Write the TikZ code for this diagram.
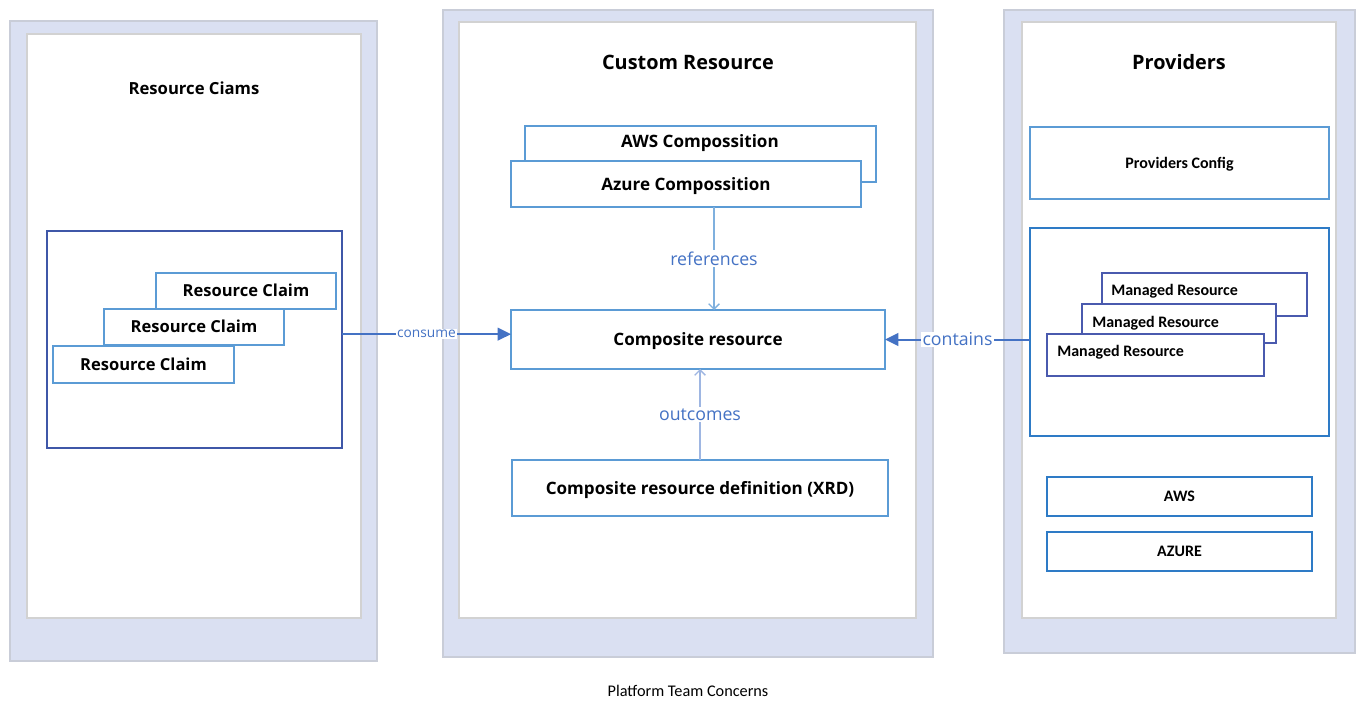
\documentclass[tikz,border=0pt]{standalone}
\usepackage{fontspec}
\setmainfont{Open Sans}
\newfontfamily\calfont{Carlito}
\usetikzlibrary{arrows.meta}
\definecolor{panelfill}{HTML}{DAE0F2}
\definecolor{paneledge}{HTML}{C9CDD8}
\definecolor{inneredge}{HTML}{D2D2D2}
\definecolor{lightblue}{HTML}{5B9BD5}
\definecolor{darkblue}{HTML}{3F57A8}
\definecolor{mrblue}{HTML}{4A5AAE}
\definecolor{brightblue}{HTML}{2E7BC6}
\definecolor{arrowblue}{HTML}{4472C4}
\definecolor{reflinecol}{HTML}{7FB0DE}
\definecolor{outlinecol}{HTML}{9EB6E2}
\newcommand{\bx}[7]{\node[#6, anchor=north west, minimum width={(#4-#2)*0.75pt}, minimum height={(#5-#3)*0.75pt}] (#1) at (#2,#3) {#7};}
\tikzset{
  base/.style={inner sep=0pt, outer sep=0pt, fill=white},
  panel/.style={base, fill=panelfill, draw=paneledge, line width=0.8pt},
  innerpanel/.style={base, draw=inneredge, line width=0.8pt},
  lbox/.style={base, text depth=0.5pt, draw=lightblue, line width=0.9pt, font=\bfseries\fontsize{12.8}{14}\selectfont},
  claimbox/.style={base, text depth=0.5pt, draw=lightblue, line width=0.9pt, font=\bfseries\fontsize{12.4}{14}\selectfont},
  groupbox/.style={base, draw=darkblue, line width=0.9pt},
  mgroupbox/.style={base, draw=brightblue, line width=1.1pt},
  mrbox/.style={base, draw=mrblue, line width=1pt},
  provbox/.style={base, text depth=0.5pt, draw=brightblue, line width=1.5pt, font=\calfont\bfseries\fontsize{12}{14}\selectfont},
  pcbox/.style={base, text depth=0.5pt, draw=lightblue, line width=1pt, font=\calfont\bfseries\fontsize{12}{14}\selectfont},
  title/.style={inner sep=0pt, font=\bfseries\fontsize{14.9}{17}\selectfont},
  subtitle/.style={inner sep=0pt, font=\bfseries\fontsize{12.5}{14}\selectfont},
  txt/.style={inner sep=0pt},
  mrtxt/.style={inner sep=0pt, anchor=west, font=\calfont\bfseries\fontsize{12}{14}\selectfont},
  fatarrow/.style={draw=arrowblue, line width=1.5pt, -{Triangle[length=10pt,width=9.5pt]}},
  thinarrow/.style={line width=1pt, -{Straight Barb[length=4pt,width=8pt]}},
  lbl/.style={fill=white, text=arrowblue, inner sep=1pt, font=\fontsize{13.3}{15}\selectfont},
  smalllbl/.style={fill=white, text=arrowblue, inner sep=1pt, font=\fontsize{10.3}{12}\selectfont},
}
\begin{document}
\begin{tikzpicture}[x=0.75pt, y=-0.75pt]
\fill[white] (0,0) rectangle (1365,718);
\useasboundingbox (0,0) rectangle (1365,718);
% panels
\bx{lpo}{10}{21}{377}{661}{panel}{}
\bx{lpi}{27}{34}{361}{618}{innerpanel}{}
\bx{mpo}{443}{10}{933}{657}{panel}{}
\bx{mpi}{459}{22}{916}{618}{innerpanel}{}
\bx{rpo}{1004}{10}{1355}{653}{panel}{}
\bx{rpi}{1022}{22}{1336}{618}{innerpanel}{}
% titles
\node[subtitle] (lt) at (194,88) {Resource Ciams};
\node[title] (mt) at (688,62) {Custom Resource};
\node[title] (rt) at (1179,62) {Providers};
% resource claims
\bx{claims}{47}{231}{342}{448}{groupbox}{}
\bx{rc1}{156}{273}{336}{309}{claimbox}{Resource Claim}
\bx{rc2}{104}{309}{284}{345}{claimbox}{Resource Claim}
\bx{rc3}{53}{346}{234}{383}{claimbox}{Resource Claim}
% compositions
\bx{aws}{525}{126}{876}{182}{lbox}{}
\node[txt, font=\bfseries\fontsize{12.8}{14}\selectfont] (awst) at (700,143) {AWS Compossition};
\bx{azure}{511}{161}{861}{207}{lbox}{Azure Compossition}
\bx{comp}{511}{310}{885}{369}{lbox}{Composite resource}
\bx{xrd}{512}{460}{888}{516}{lbox}{Composite resource definition (XRD)}
% providers
\bx{pc}{1030}{127}{1329}{199}{pcbox}{Providers Config}
\bx{mgrp}{1030}{228}{1329}{436}{mgroupbox}{}
\bx{mr1}{1102}{273}{1307}{316}{mrbox}{}
\node[mrtxt] (mr1t) at (1111,291) {Managed Resource};
\bx{mr2}{1082}{304}{1276}{343}{mrbox}{}
\node[mrtxt] (mr2t) at (1092,323) {Managed Resource};
\bx{mr3}{1047}{334}{1264}{376}{mrbox}{}
\node[mrtxt] (mr3t) at (1057,352) {Managed Resource};
\bx{paws}{1047}{477}{1312}{516}{provbox}{AWS}
\bx{pazure}{1047}{532}{1312}{571}{provbox}{AZURE}
% caption
\node[txt, font=\calfont\fontsize{12.2}{14}\selectfont] (cap) at (688,691) {Platform Team Concerns};
% connectors
\coordinate (refx) at (714,0);
\draw[fatarrow] ([yshift=4pt]claims.east) -- ([yshift=4pt]comp.west) node[smalllbl, midway] {consume};
\draw[fatarrow] (mgrp.west |- comp.east) -- (comp.east) node[lbl, midway] {contains};
\draw[thinarrow, draw=reflinecol] (azure.south -| refx) -- (comp.north -| refx) node[lbl, midway] {references};
\draw[thinarrow, draw=outlinecol] (xrd.north) -- (xrd.north |- comp.south) node[lbl, midway] {outcomes};
\end{tikzpicture}
\end{document}
